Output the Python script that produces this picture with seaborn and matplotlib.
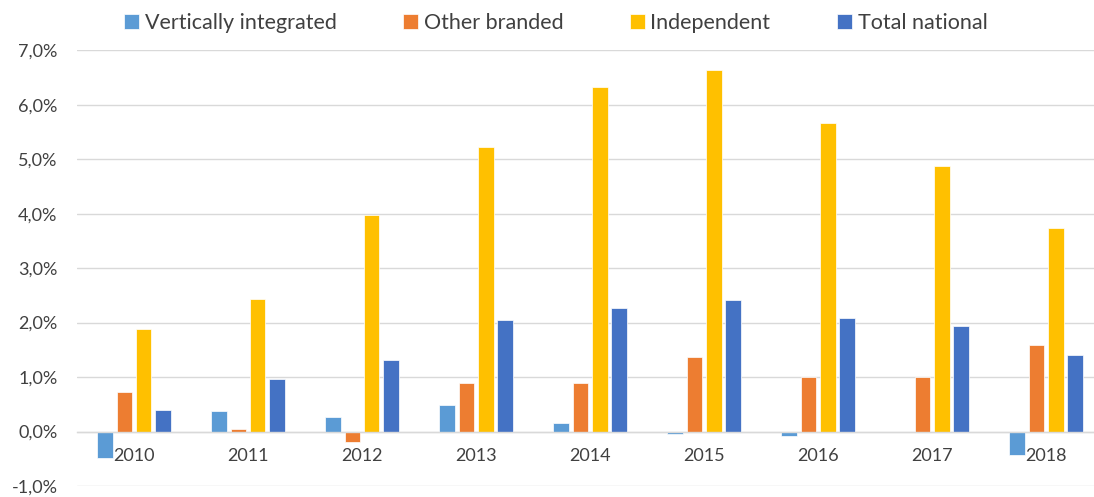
import matplotlib
matplotlib.use("Agg")
import matplotlib.pyplot as plt
import seaborn as sns
import pandas as pd
from matplotlib.ticker import FuncFormatter, MultipleLocator

years = ["2010", "2011", "2012", "2013", "2014", "2015", "2016", "2017", "2018"]
vertically_integrated = [-0.49, 0.38, 0.26, 0.48, 0.15, -0.05, -0.08, 0.0, -0.43]
other_branded = [0.72, 0.05, -0.20, 0.90, 0.90, 1.36, 1.00, 1.00, 1.58]
independent = [1.88, 2.43, 3.97, 5.23, 6.33, 6.63, 5.66, 4.88, 3.74]
total_national = [0.39, 0.97, 1.32, 2.04, 2.27, 2.41, 2.08, 1.93, 1.40]

series_names = ["Vertically integrated", "Other branded", "Independent", "Total national"]
series_values = [vertically_integrated, other_branded, independent, total_national]
colors = ["#5B9BD5", "#ED7D31", "#FFC000", "#4472C4"]

rows = []
for name, vals in zip(series_names, series_values):
    for y, v in zip(years, vals):
        rows.append({"Year": y, "Series": name, "Value": v})
df = pd.DataFrame(rows)

sns.set_theme(style="white")
plt.rcParams['font.family'] = ['Lato', 'DejaVu Sans']

fig = plt.figure(figsize=(10.94, 4.97), dpi=100)
ax = fig.add_axes([0.0704, 0.022, 0.9296, 0.877])

sns.barplot(data=df, x="Year", y="Value", hue="Series", hue_order=series_names,
            palette=colors, width=0.68, gap=0.2, ax=ax, legend=True,
            edgecolor="white", linewidth=0.5, saturation=1)

ax.set_ylim(-1.0, 7.0)
ax.set_xlim(-0.5, 8.42)
ax.yaxis.set_major_locator(MultipleLocator(1.0))
ax.yaxis.set_major_formatter(FuncFormatter(lambda v, p: f"{v:.1f}%".replace(".", ",")))
ax.grid(axis="y", color="#D9D9D9", linewidth=1)
ax.set_axisbelow(True)
for s in ["top", "right", "left"]:
    ax.spines[s].set_visible(False)
ax.spines["bottom"].set_position(("data", 0))
ax.spines["bottom"].set_color("#D9D9D9")
ax.spines["bottom"].set_linewidth(1)
ax.tick_params(axis="x", length=0, pad=12, labelsize=13, labelcolor="#404040")
ax.tick_params(axis="y", length=0, pad=14, labelsize=13, labelcolor="#404040")
ax.set_xlabel("")
ax.set_ylabel("")

handles, labels = ax.get_legend_handles_labels()
ax.get_legend().remove()
fig.legend(handles, labels, loc="upper center", bbox_to_anchor=(0.508, 1.012), ncol=4,
           frameon=False, fontsize=15.5, handlelength=0.7, handleheight=0.7,
           handletextpad=0.25, columnspacing=3.1, labelcolor="#404040")

fig.savefig("out.png", dpi=100)
